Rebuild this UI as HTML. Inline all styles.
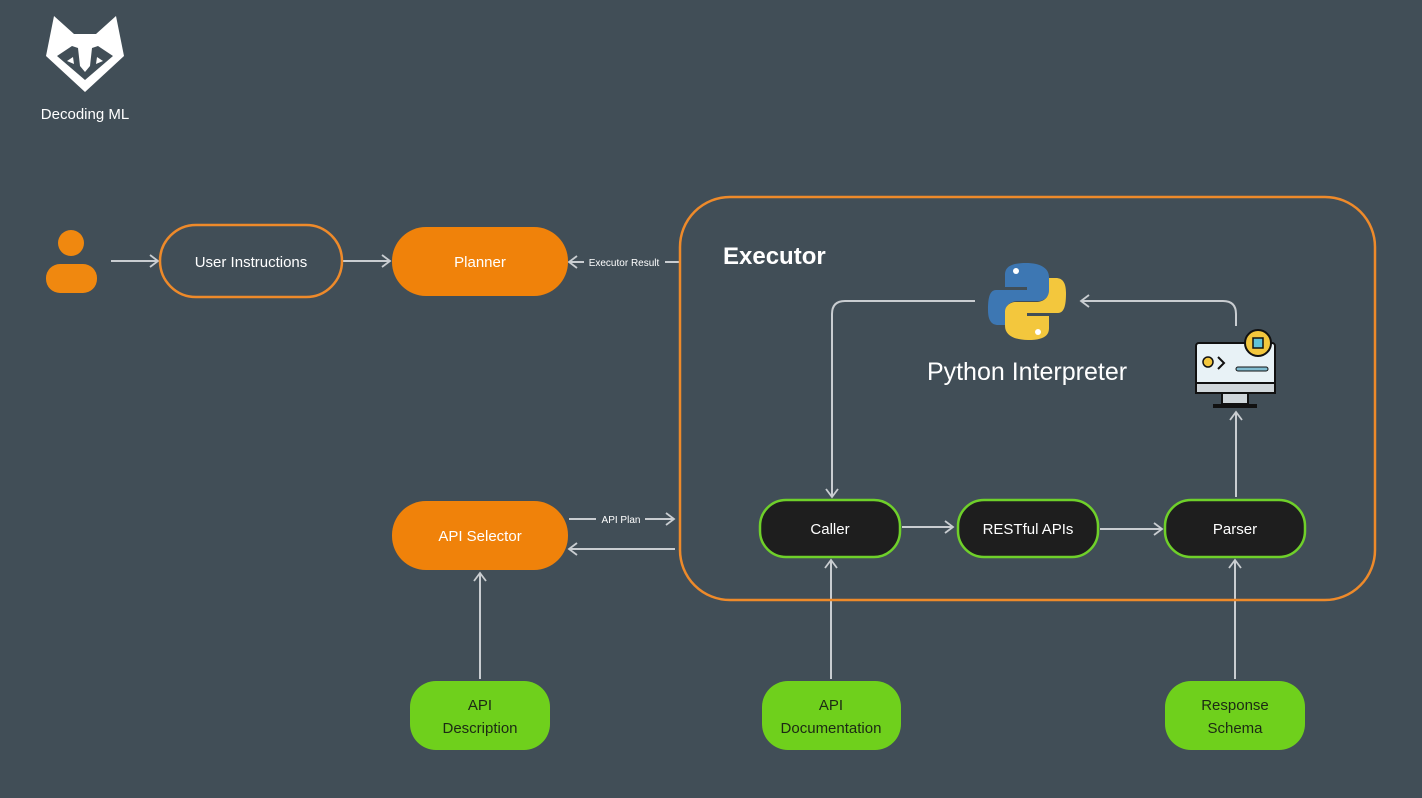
<!DOCTYPE html>
<html><head><meta charset="utf-8">
<style>
html,body{margin:0;padding:0;background:#414e57;}
svg{display:block}
text{font-family:"Liberation Sans",sans-serif;}
</style></head>
<body>
<svg width="1422" height="798" viewBox="0 0 1422 798" xmlns="http://www.w3.org/2000/svg">
<defs>
<marker id="a" markerWidth="14" markerHeight="14" refX="11" refY="7" orient="auto" markerUnits="userSpaceOnUse">
<path d="M3,1 L11,7 L3,13" fill="none" stroke="#c9cdd1" stroke-width="1.8"/>
</marker>
</defs>
<rect width="1422" height="798" fill="#414e57"/>

<!-- logo -->
<g fill="#ffffff">
<path d="M54,16 L74,34 L96,34 L116,16 L124,56 L85,92 L46,56 Z"/>
</g>
<path d="M57,56 L72,46 L78,48 L80,66 L85,72 L90,66 L92,48 L98,46 L113,56 L85,80 Z" fill="#414e57"/>
<path d="M67,61 L73,57 L74,64 Z M103,61 L97,57 L96,64 Z" fill="#fff"/>
<text x="85" y="119" font-size="15" fill="#ffffff" text-anchor="middle">Decoding ML</text>

<!-- person -->
<circle cx="71" cy="243" r="13" fill="#f0880f"/>
<rect x="46" y="264" width="51" height="29" rx="14" fill="#f0880f"/>

<g stroke="#c9cdd1" stroke-width="2" fill="none">
<line x1="111" y1="261" x2="158" y2="261" marker-end="url(#a)"/>
<line x1="343" y1="261" x2="390" y2="261" marker-end="url(#a)"/>
<line x1="584" y1="262" x2="569" y2="262" marker-end="url(#a)"/>
<line x1="665" y1="262" x2="679" y2="262"/>
<line x1="569" y1="519" x2="596" y2="519"/>
<line x1="645" y1="519" x2="674" y2="519" marker-end="url(#a)"/>
<line x1="675" y1="549" x2="569" y2="549" marker-end="url(#a)"/>
<line x1="480" y1="679" x2="480" y2="573" marker-end="url(#a)"/>
<line x1="831" y1="679" x2="831" y2="560" marker-end="url(#a)"/>
<line x1="1235" y1="679" x2="1235" y2="560" marker-end="url(#a)"/>
<line x1="902" y1="527" x2="953" y2="527" marker-end="url(#a)"/>
<line x1="1100" y1="529" x2="1162" y2="529" marker-end="url(#a)"/>
<line x1="1236" y1="497" x2="1236" y2="412" marker-end="url(#a)"/>
<path d="M975,301 L845,301 Q832,301 832,314 L832,497" marker-end="url(#a)"/>
<path d="M1236,326 L1236,314 Q1236,301 1223,301 L1081,301" marker-end="url(#a)"/>
</g>

<!-- executor container -->
<rect x="680" y="197" width="695" height="403" rx="50" fill="none" stroke="#ee8a2a" stroke-width="2.5"/>
<text x="723" y="264" font-size="24" font-weight="bold" fill="#fff">Executor</text>

<!-- boxes -->
<rect x="160" y="225" width="182" height="72" rx="36" fill="none" stroke="#ee8a2a" stroke-width="2.5"/>
<text x="251" y="267" font-size="15" fill="#fff" text-anchor="middle">User Instructions</text>
<rect x="392" y="227" width="176" height="69" rx="34" fill="#f0820a"/>
<text x="480" y="267" font-size="15" fill="#fff" text-anchor="middle">Planner</text>
<text x="624" y="266" font-size="10" fill="#fff" text-anchor="middle">Executor Result</text>
<text x="621" y="523" font-size="10" fill="#fff" text-anchor="middle">API Plan</text>
<rect x="392" y="501" width="176" height="69" rx="34" fill="#f0820a"/>
<text x="480" y="541" font-size="15" fill="#fff" text-anchor="middle">API Selector</text>

<g stroke="#6fd02a" stroke-width="2.5" fill="#1e1e1e">
<rect x="760" y="500" width="140" height="57" rx="26"/>
<rect x="958" y="500" width="140" height="57" rx="26"/>
<rect x="1165" y="500" width="140" height="57" rx="26"/>
</g>
<text x="830" y="534" font-size="15" fill="#fff" text-anchor="middle">Caller</text>
<text x="1028" y="534" font-size="15" fill="#fff" text-anchor="middle">RESTful APIs</text>
<text x="1235" y="534" font-size="15" fill="#fff" text-anchor="middle">Parser</text>

<g fill="#6fd01c">
<rect x="410" y="681" width="140" height="69" rx="26"/>
<rect x="762" y="681" width="139" height="69" rx="26"/>
<rect x="1165" y="681" width="140" height="69" rx="26"/>
</g>
<g font-size="15" fill="#1c2a14" text-anchor="middle">
<text x="480" y="710">API</text><text x="480" y="733">Description</text>
<text x="831" y="710">API</text><text x="831" y="733">Documentation</text>
<text x="1235" y="710">Response</text><text x="1235" y="733">Schema</text>
</g>

<!-- python logo -->
<path d="M1026,263 C1004,263 1005,272 1005,277 L1005,287 L1027,287 L1027,290 L996,290 C989,290 988,300 988,310 C988,321 992,325 998,325 L1005,325 L1005,313 C1005,305 1011,301 1018,301 L1038,301 C1044,301 1049,297 1049,291 L1049,277 C1049,268 1040,263 1026,263 Z" fill="#3d77b3"/>
<path d="M1028,340 C1050,340 1049,331 1049,326 L1049,316 L1027,316 L1027,313 L1058,313 C1065,313 1066,303 1066,293 C1066,282 1062,278 1056,278 L1049,278 L1049,290 C1049,298 1043,302 1036,302 L1016,302 C1010,302 1005,306 1005,312 L1005,326 C1005,335 1014,340 1028,340 Z" fill="#f3c73d"/>
<circle cx="1016" cy="271" r="3" fill="#fff"/>
<circle cx="1038" cy="332" r="3" fill="#fff"/>
<text x="1027" y="380" font-size="25" fill="#fff" text-anchor="middle">Python Interpreter</text>

<!-- monitor icon -->
<rect x="1196" y="343" width="79" height="50" rx="3" fill="#e8f2f6" stroke="#111" stroke-width="2"/>
<rect x="1196" y="383" width="79" height="10" fill="#cfd6da" stroke="#111" stroke-width="2"/>
<rect x="1222" y="393" width="26" height="11" fill="#cfd6da" stroke="#111" stroke-width="2"/>
<rect x="1213" y="404" width="44" height="4" fill="#111"/>
<circle cx="1208" cy="362" r="5" fill="#f3c73d" stroke="#111" stroke-width="1.5"/>
<path d="M1218,357 L1224,363 L1218,369" fill="none" stroke="#111" stroke-width="2"/>
<rect x="1236" y="367" width="32" height="4" rx="2" fill="#7fbcd0" stroke="#111" stroke-width="1"/>
<circle cx="1258" cy="343" r="13" fill="#f3c73d" stroke="#111" stroke-width="2"/>
<rect x="1253" y="338" width="10" height="10" fill="#5fc3d9" stroke="#111" stroke-width="1.5"/>
</svg>
</body></html>
